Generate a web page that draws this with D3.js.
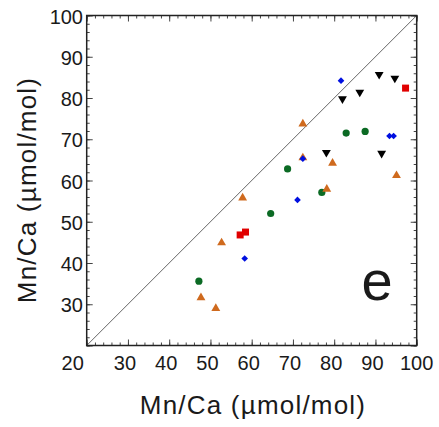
<!DOCTYPE html>
<html>
<head>
<meta charset="utf-8">
<script src="https://cdn.jsdelivr.net/npm/d3@7"></script>
<style>
  body { margin: 0; background: #fff; }
  text { font-family: "Liberation Sans", Arial, sans-serif; fill: #1a1a1a; }
</style>
</head>
<body>
<svg id="chart" width="439" height="427"></svg>
<script>
// data
const blueX   = [81.65, 93.4, 94.4, 72.4, 71.1, 58.3];
const blueY   = [84.2, 70.8, 70.8, 65.3, 55.3, 41.1];
const blackX  = [90.9, 94.7, 86.2, 82.0, 78.1, 91.5];
const blackY  = [85.7, 84.8, 81.4, 79.8, 66.8, 66.6];
const redX    = [97.3, 57.2, 58.5];
const redY    = [82.4, 46.8, 47.5];
const orangeX = [72.4, 72.4, 79.6, 95.1, 78.2, 57.8, 52.7, 47.7, 51.3];
const orangeY = [73.7, 65.5, 64.2, 61.2, 57.9, 55.8, 44.9, 31.6, 29.0];
const greenX  = [82.9, 87.5, 68.7, 77.0, 64.6, 47.2];
const greenY  = [71.5, 71.9, 62.8, 57.1, 52.0, 35.6];
const ticks = [20, 30, 40, 50, 60, 70, 80, 90, 100];
const minorTicks = d3.range(20, 101, 2);

const svg = d3.select("#chart");
const pLeft = 86.7, pRight = 416.7, pTop = 15.5, pBottom = 345.5;

const x = d3.scaleLinear().domain([20, 100]).range([pLeft, pRight]);
const y = d3.scaleLinear().domain([20, 100]).range([pBottom, pTop]);

// 1:1 line
svg.append("line")
    .attr("x1", x(20)).attr("y1", y(20))
    .attr("x2", x(100)).attr("y2", y(100))
    .attr("stroke", "#666").attr("stroke-width", 1);

// ticks, all inward
function tickAxis(axis, size, tr) {
    const g = svg.append("g").attr("transform", tr)
        .call(axis.tickSize(size).tickFormat(""));
    g.select(".domain").remove();
    g.selectAll("line").attr("stroke", "#444").attr("stroke-width", 1);
}
[[ticks, -6], [minorTicks, -3]].forEach(([tv, s]) => {
    tickAxis(d3.axisBottom(x).tickValues(tv), s, `translate(0,${pBottom})`);
    tickAxis(d3.axisTop(x).tickValues(tv), s, `translate(0,${pTop})`);
    tickAxis(d3.axisLeft(y).tickValues(tv), s, `translate(${pLeft},0)`);
    tickAxis(d3.axisRight(y).tickValues(tv), s, `translate(${pRight},0)`);
});

// frame
svg.append("rect")
    .attr("x", pLeft).attr("y", pTop)
    .attr("width", pRight - pLeft).attr("height", pBottom - pTop)
    .attr("fill", "none").attr("stroke", "#222").attr("stroke-width", 1.5);

// tick labels
svg.append("g").selectAll("text")
    .data(ticks).enter().append("text")
    .attr("x", (d, i) => x(d) + (i === 0 ? -14 : (d === 100 ? 0 : -3)))
    .attr("y", 370)
    .attr("text-anchor", "middle")
    .style("font-size", "20px")
    .text(d => d);

svg.append("g").selectAll("text")
    .data(ticks.slice(1)).enter().append("text")
    .attr("x", 83)
    .attr("y", d => y(d) + 8)
    .attr("text-anchor", "end")
    .style("font-size", "20px")
    .text(d => d);

// axis titles
svg.append("text")
    .attr("x", 253).attr("y", 414)
    .attr("text-anchor", "middle")
    .style("font-size", "26px")
    .style("letter-spacing", "1.2px")
    .text("Mn/Ca (µmol/mol)");

svg.append("text")
    .attr("transform", "translate(36,190) rotate(-90)")
    .attr("text-anchor", "middle")
    .style("font-size", "26px")
    .style("letter-spacing", "1.2px")
    .text("Mn/Ca (µmol/mol)");

// panel letter
svg.append("text")
    .attr("x", 377).attr("y", 300)
    .attr("text-anchor", "middle")
    .style("font-size", "56px")
    .text("e");

// markers
const pts = (xs, ys) => xs.map((v, i) => [v, ys[i]]);

svg.append("g").selectAll("circle")
    .data(pts(greenX, greenY)).enter().append("circle")
    .attr("cx", d => x(d[0])).attr("cy", d => y(d[1]))
    .attr("r", 3.6).attr("fill", "#0b6a24");

svg.append("g").selectAll("path")
    .data(pts(orangeX, orangeY)).enter().append("path")
    .attr("d", d3.symbol(d3.symbolTriangle, 34))
    .attr("transform", d => `translate(${x(d[0])},${y(d[1])})`)
    .attr("fill", "#cf6a1e");

svg.append("g").selectAll("path")
    .data(pts(blackX, blackY)).enter().append("path")
    .attr("d", d3.symbol(d3.symbolTriangle, 34))
    .attr("transform", d => `translate(${x(d[0])},${y(d[1])}) rotate(180)`)
    .attr("fill", "#000");

svg.append("g").selectAll("rect")
    .data(pts(redX, redY)).enter().append("rect")
    .attr("x", d => x(d[0]) - 3.5).attr("y", d => y(d[1]) - 3.5)
    .attr("width", 7).attr("height", 7)
    .attr("fill", "#e00000");

svg.append("g").selectAll("path")
    .data(pts(blueX, blueY)).enter().append("path")
    .attr("d", d3.symbol(d3.symbolSquare, 22))
    .attr("transform", d => `translate(${x(d[0])},${y(d[1])}) rotate(45)`)
    .attr("fill", "#0010e0");
</script>
</body>
</html>
